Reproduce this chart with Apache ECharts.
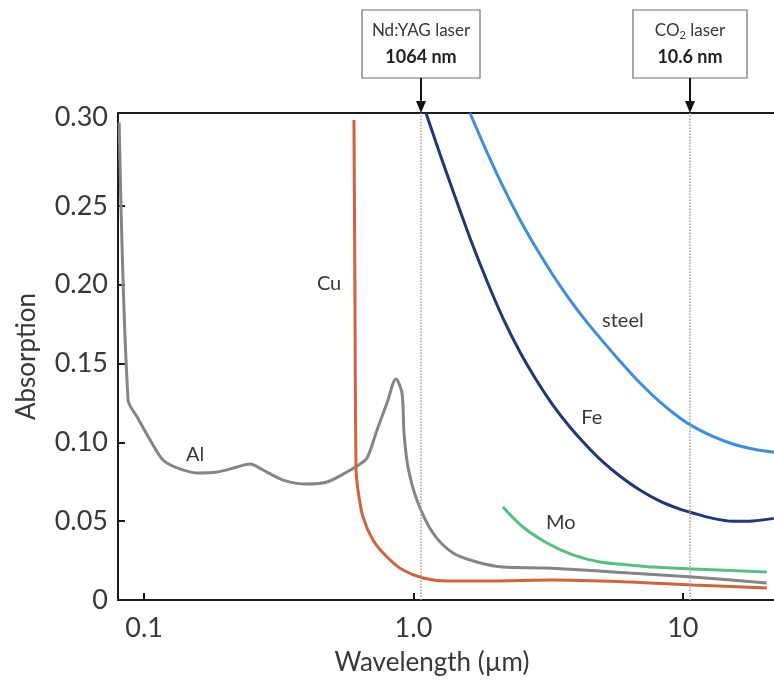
<!DOCTYPE html>
<html>
<head>
<meta charset="utf-8">
<title>Absorption vs wavelength</title>
<script src="https://cdn.jsdelivr.net/npm/echarts@6/dist/echarts.min.js"></script>
<style>
  html, body { margin: 0; padding: 0; background: #fff; }
  #chart { width: 774px; height: 684px; }
</style>
</head>
<body>
<div id="chart"></div>
<script>
// axis ticks
const wavelengthTicks = [0.1, 1, 10];
const wavelengthTickLabels = ['0.1', '1.0', '10'];
const absorptionTicks = [0, 0.05, 0.1, 0.15, 0.2, 0.25, 0.3];
const absorptionTickLabels = ['0', '0.05', '0.10', '0.15', '0.20', '0.25', '0.30'];

// curves (wavelength in µm, absorption)
const alWavelength = [0.0808, 0.0872, 0.0942, 0.1053, 0.1176, 0.1326, 0.1573, 0.1866, 0.2214, 0.2473, 0.2764,
  0.328, 0.4025, 0.4775, 0.5664, 0.6171, 0.6722, 0.7323, 0.7974, 0.8613, 0.9064, 0.9222, 0.9541,
  1.03, 1.181, 1.402, 1.72, 2.148, 3.129, 6.358, 10.89, 20.5];
const alAbsorption = [0.303, 0.1269, 0.1161, 0.1015, 0.0888, 0.0838, 0.0806, 0.0812, 0.0844, 0.0863, 0.0825,
  0.0761, 0.0736, 0.0749, 0.0812, 0.085, 0.0901, 0.1079, 0.125, 0.1402, 0.1313, 0.106, 0.0844,
  0.0635, 0.0425, 0.0298, 0.0241, 0.0209, 0.0203, 0.0171, 0.0146, 0.0108];

const cuWavelength = [0.6013, 0.6065, 0.6117, 0.6223, 0.6495, 0.7074, 0.7974, 0.9141, 1.0846, 1.331, 1.922, 3.293, 6.358, 10.89, 20.5];
const cuAbsorption = [0.3046, 0.1904, 0.0844, 0.0698, 0.0527, 0.0381, 0.0273, 0.019, 0.014, 0.0121, 0.0121, 0.0127, 0.0114, 0.0095, 0.0076];

const feWavelength = [1.113, 1.254, 1.402, 1.621, 1.874, 2.148, 2.485, 2.873, 3.293, 3.808, 4.404, 5.049, 5.836,
  6.924, 8.216, 9.748, 10.89, 12.92, 15.33, 18.18, 21.77];
const feAbsorption = [0.309, 0.283, 0.2595, 0.2297, 0.2024, 0.1789, 0.1574, 0.139, 0.1237, 0.1098, 0.0977, 0.0876, 0.0787,
  0.0698, 0.0628, 0.0577, 0.0552, 0.0518, 0.05, 0.0502, 0.0518];

const steelWavelength = [1.621, 1.874, 2.148, 2.485, 2.873, 3.293, 3.808, 4.404, 5.049, 5.836, 6.924, 8.216, 9.748,
  10.89, 12.92, 15.33, 18.18, 21.77];
const steelAbsorption = [0.309, 0.2842, 0.2624, 0.2413, 0.2225, 0.2062, 0.1905, 0.1763, 0.1641, 0.1517, 0.1378, 0.1257, 0.1155,
  0.1102, 0.1038, 0.099, 0.0958, 0.0938];

const moWavelength = [2.148, 2.549, 3.129, 3.906, 4.92, 6.358, 7.74, 10.89, 20.5];
const moAbsorption = [0.059, 0.0463, 0.0362, 0.0286, 0.0241, 0.0222, 0.0209, 0.0197, 0.0178];

// laser lines
const laserWavelengths = [1.064, 10.6];
const laserNames = ['Nd:YAG laser', 'CO{sub|2} laser'];
const laserValues = ['1064 nm', '10.6 nm'];

const FONT = 'Lato, "Open Sans", sans-serif';
const TEXT = '#383838';
const AXIS = '#1a1a1a';

const curves = [
  { name: 'Al', xs: alWavelength, ys: alAbsorption, color: '#858585', at: [0.1545, 0.092] },
  { name: 'Cu', xs: cuWavelength, ys: cuAbsorption, color: '#d0643a', at: [0.486, 0.201] },
  { name: 'Mo', xs: moWavelength, ys: moAbsorption, color: '#55c081', at: [3.526, 0.0489] },
  { name: 'steel', xs: steelWavelength, ys: steelAbsorption, color: '#3c8fe0', at: [5.99, 0.177] },
  { name: 'Fe', xs: feWavelength, ys: feAbsorption, color: '#1f3877', at: [4.595, 0.1155] }
];

const chart = echarts.init(document.getElementById('chart'));

const series = curves.map(c => ({
  name: c.name,
  type: 'line',
  data: c.xs.map((x, i) => [x, c.ys[i]]),
  showSymbol: false,
  smooth: 0.3,
  lineStyle: { width: 3, color: c.color },
  itemStyle: { color: c.color },
  markPoint: {
    silent: true,
    symbol: 'circle',
    symbolSize: 0,
    label: { show: true, position: 'inside', formatter: c.name, color: TEXT, fontSize: 20, fontFamily: FONT },
    data: [{ coord: c.at }]
  }
}));

// dotted laser lines
series.push({
  type: 'line',
  data: [],
  markLine: {
    silent: true,
    symbol: ['none', 'none'],
    label: { show: false },
    lineStyle: { type: 'dotted', color: '#a0a0a0', width: 1.5 },
    data: laserWavelengths.map(w => ({ xAxis: w }))
  }
});

const option = {
  animation: false,
  backgroundColor: '#fff',
  grid: { left: 118, top: 113, right: 0, bottom: 84 },
  xAxis: [
    {
      type: 'log',
      logBase: 10,
      min: 0.08,
      max: 21.8,
      axisLine: { lineStyle: { color: AXIS, width: 2 } },
      axisTick: { inside: true, length: 7, customValues: wavelengthTicks, lineStyle: { color: AXIS, width: 2 } },
      axisLabel: {
        customValues: wavelengthTicks,
        formatter: v => wavelengthTickLabels[wavelengthTicks.findIndex(t => Math.abs(t - v) / t < 1e-6)] || '',
        fontSize: 27, fontFamily: FONT, color: TEXT, margin: 15
      },
      minorTick: { show: false },
      splitLine: { show: false },
      name: 'Wavelength (µm)',
      nameLocation: 'middle',
      nameGap: 50,
      nameTextStyle: { fontSize: 26, fontFamily: FONT, color: TEXT, padding: [0, 28, 0, 0] }
    },
    {
      type: 'value',
      position: 'top',
      min: 0, max: 1,
      axisLine: { show: true, lineStyle: { color: AXIS, width: 2 } },
      axisTick: { show: false },
      axisLabel: { show: false },
      splitLine: { show: false }
    }
  ],
  yAxis: {
    type: 'value',
    min: 0,
    max: 0.309,
    axisLine: { show: true, lineStyle: { color: AXIS, width: 2 } },
    axisTick: { show: true, inside: true, length: 7, customValues: absorptionTicks.slice(0, -1), lineStyle: { color: AXIS, width: 2 } },
    axisLabel: {
      customValues: absorptionTicks,
      formatter: v => {
        const i = absorptionTicks.findIndex(t => Math.abs(t - v) < 1e-6);
        if (i < 0) return '';
        return i === absorptionTicks.length - 1 ? '{top|' + absorptionTickLabels[i] + '}' : absorptionTickLabels[i];
      },
      fontSize: 27, fontFamily: FONT, color: TEXT, margin: 10,
      rich: { top: { fontSize: 27, fontFamily: FONT, color: TEXT, padding: [0, 0, 20, 0] } }
    },
    splitLine: { show: false },
    name: 'Absorption',
    nameLocation: 'middle',
    nameRotate: 90,
    nameGap: 78,
    nameTextStyle: { fontSize: 26, fontFamily: FONT, color: TEXT }
  },
  series: series
};

chart.setOption(option);

// laser boxes and arrows above the plot
const elements = [];
laserWavelengths.forEach((w, i) => {
  const px = Math.round(chart.convertToPixel({ xAxisIndex: 0 }, w));
  const bw = i === 0 ? 118 : 114;
  elements.push({
    type: 'rect',
    shape: { x: px - bw / 2, y: 10, width: bw, height: 68 },
    style: { fill: '#fff', stroke: '#6e6e6e', lineWidth: 1.2 }
  });
  elements.push({
    type: 'text',
    style: {
      text: laserNames[i], x: px, y: 31, align: 'center', verticalAlign: 'middle',
      fontSize: 17, fontFamily: FONT, fill: TEXT,
      rich: { sub: { fontSize: 11, fontFamily: FONT, fill: TEXT, padding: [9, 0, 0, 0] } }
    }
  });
  elements.push({
    type: 'text',
    style: {
      text: laserValues[i], x: px, y: 57, align: 'center', verticalAlign: 'middle',
      fontSize: 18, fontWeight: 'bold', fontFamily: FONT, fill: '#222'
    }
  });
  elements.push({
    type: 'line',
    shape: { x1: px, y1: 78, x2: px, y2: 103 },
    style: { stroke: '#111', lineWidth: 2 }
  });
  elements.push({
    type: 'polygon',
    shape: { points: [[px - 5, 101], [px + 5, 101], [px, 113]] },
    style: { fill: '#111' }
  });
});
chart.setOption({ graphic: { elements: elements } });
</script>
</body>
</html>
